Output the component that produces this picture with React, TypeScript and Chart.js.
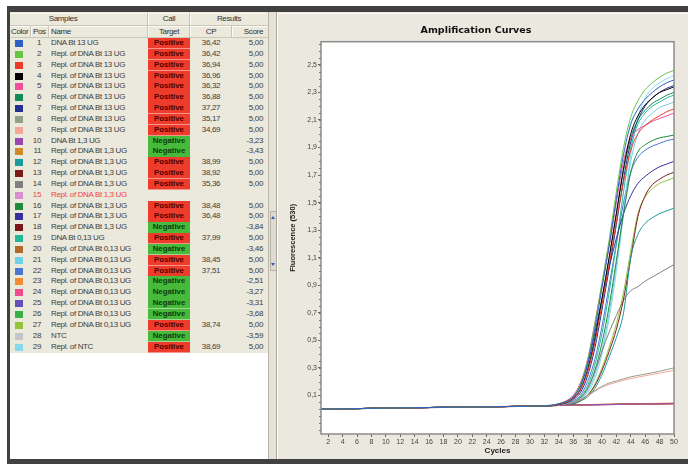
import React, { useEffect, useRef } from 'react';
import { Chart, registerables } from 'chart.js';

Chart.register(...registerables);

// ---------- table data ----------
const sampleNames = [
  'DNA Bt 13 UG', 'Repl. of DNA Bt 13 UG', 'Repl. of DNA Bt 13 UG', 'Repl. of DNA Bt 13 UG',
  'Repl. of DNA Bt 13 UG', 'Repl. of DNA Bt 13 UG', 'Repl. of DNA Bt 13 UG', 'Repl. of DNA Bt 13 UG',
  'Repl. of DNA Bt 13 UG', 'DNA Bt 1,3 UG', 'Repl. of DNA Bt 1,3 UG', 'Repl. of DNA Bt 1,3 UG',
  'Repl. of DNA Bt 1,3 UG', 'Repl. of DNA Bt 1,3 UG', 'Repl. of DNA Bt 1,3 UG', 'Repl. of DNA Bt 1,3 UG',
  'Repl. of DNA Bt 1,3 UG', 'Repl. of DNA Bt 1,3 UG', 'DNA Bt 0,13 UG', 'Repl. of DNA Bt 0,13 UG',
  'Repl. of DNA Bt 0,13 UG', 'Repl. of DNA Bt 0,13 UG', 'Repl. of DNA Bt 0,13 UG', 'Repl. of DNA Bt 0,13 UG',
  'Repl. of DNA Bt 0,13 UG', 'Repl. of DNA Bt 0,13 UG', 'Repl. of DNA Bt 0,13 UG', 'NTC', 'Repl. of NTC',
];

const sampleColors = [
  '#2f5fc4', '#66c545', '#ee3a2a', '#000000', '#f0509a', '#138a5a', '#23308e', '#92a08a',
  '#f4a89a', '#9a48b0', '#d08a2a', '#1a9a9a', '#7e1a1a', '#808080', '#d890d0', '#1f8a3a',
  '#3a2f9a', '#7a1818', '#25b896', '#b06a2a', '#6fd0e6', '#4a78d0', '#f58a35', '#f04a90',
  '#6650b8', '#38b048', '#94c43c', '#c4c4cc', '#88d8ec',
];

const sampleCalls = [
  'Positive', 'Positive', 'Positive', 'Positive', 'Positive', 'Positive', 'Positive', 'Positive',
  'Positive', 'Negative', 'Negative', 'Positive', 'Positive', 'Positive', '', 'Positive',
  'Positive', 'Negative', 'Positive', 'Negative', 'Positive', 'Positive', 'Negative', 'Negative',
  'Negative', 'Negative', 'Positive', 'Negative', 'Positive',
];

const cpValues = [
  '36,42', '36,42', '36,94', '36,96', '36,32', '36,88', '37,27', '35,17', '34,69', '', '',
  '38,99', '38,92', '35,36', '', '38,48', '36,48', '', '37,99', '', '38,45', '37,51', '', '',
  '', '', '38,74', '', '38,69',
];

const scoreValues = [
  '5,00', '5,00', '5,00', '5,00', '5,00', '5,00', '5,00', '5,00', '5,00', '-3,23', '-3,43',
  '5,00', '5,00', '5,00', '', '5,00', '5,00', '-3,84', '5,00', '-3,46', '5,00', '5,00', '-2,51',
  '-3,27', '-3,31', '-3,68', '5,00', '-3,59', '5,00',
];

// ---------- chart data ----------
const cycles = [1, 10, 20, 30, 33, 34, 35, 36, 37, 38, 39, 40, 41, 42, 43, 44, 45, 46, 47, 48, 49, 50];

const fluo01 = [0, 0.008, 0.015, 0.022, 0.028, 0.04, 0.055, 0.09, 0.17, 0.33, 0.58, 0.88, 1.19, 1.53, 1.85, 2.07, 2.18, 2.25, 2.3, 2.34, 2.37, 2.39];
const fluo02 = [0, 0.008, 0.015, 0.022, 0.028, 0.04, 0.055, 0.09, 0.18, 0.35, 0.62, 0.92, 1.23, 1.58, 1.9, 2.12, 2.24, 2.32, 2.37, 2.41, 2.44, 2.46];
const fluo03 = [0, 0.008, 0.015, 0.022, 0.027, 0.035, 0.05, 0.08, 0.14, 0.27, 0.48, 0.76, 1.05, 1.36, 1.65, 1.88, 2.0, 2.06, 2.1, 2.13, 2.16, 2.18];
const fluo04 = [0, 0.008, 0.015, 0.022, 0.027, 0.035, 0.05, 0.08, 0.14, 0.28, 0.5, 0.8, 1.1, 1.42, 1.75, 2.0, 2.13, 2.21, 2.26, 2.3, 2.32, 2.34];
const fluo05 = [0, 0.008, 0.015, 0.022, 0.03, 0.04, 0.06, 0.1, 0.19, 0.36, 0.62, 0.9, 1.18, 1.5, 1.8, 1.97, 2.03, 2.06, 2.09, 2.11, 2.13, 2.15];
const fluo06 = [0, 0.008, 0.015, 0.022, 0.027, 0.036, 0.05, 0.08, 0.15, 0.29, 0.52, 0.8, 1.1, 1.42, 1.73, 1.97, 2.1, 2.17, 2.22, 2.25, 2.28, 2.3];
const fluo07 = [0, 0.008, 0.015, 0.022, 0.026, 0.034, 0.045, 0.07, 0.12, 0.24, 0.44, 0.72, 1.02, 1.34, 1.67, 1.94, 2.1, 2.2, 2.26, 2.3, 2.33, 2.35];
const fluo08 = [0, 0.008, 0.015, 0.022, 0.027, 0.032, 0.04, 0.05, 0.07, 0.1, 0.135, 0.165, 0.19, 0.205, 0.22, 0.235, 0.245, 0.255, 0.265, 0.275, 0.288, 0.3];
const fluo09 = [0, 0.008, 0.015, 0.022, 0.027, 0.032, 0.04, 0.05, 0.068, 0.095, 0.13, 0.16, 0.18, 0.195, 0.21, 0.222, 0.233, 0.243, 0.253, 0.262, 0.272, 0.282];
const fluo10 = [0, 0.008, 0.015, 0.022, 0.026, 0.028, 0.029, 0.03, 0.031, 0.032, 0.033, 0.034, 0.035, 0.035, 0.036, 0.037, 0.037, 0.038, 0.038, 0.039, 0.04, 0.04];
const fluo11 = [0, 0.007, 0.014, 0.021, 0.025, 0.027, 0.028, 0.029, 0.03, 0.031, 0.032, 0.033, 0.034, 0.035, 0.035, 0.036, 0.037, 0.037, 0.038, 0.039, 0.039, 0.04];
const fluo12 = [0, 0.008, 0.015, 0.022, 0.026, 0.03, 0.035, 0.04, 0.06, 0.09, 0.15, 0.25, 0.38, 0.52, 0.7, 1.1, 1.27, 1.35, 1.39, 1.42, 1.44, 1.46];
const fluo13 = [0, 0.008, 0.015, 0.022, 0.026, 0.03, 0.035, 0.04, 0.06, 0.1, 0.17, 0.28, 0.42, 0.58, 0.8, 1.1, 1.4, 1.55, 1.63, 1.67, 1.7, 1.72];
const fluo14 = [0, 0.008, 0.015, 0.022, 0.027, 0.033, 0.04, 0.05, 0.08, 0.15, 0.27, 0.42, 0.56, 0.68, 0.79, 0.86, 0.89, 0.93, 0.96, 0.99, 1.02, 1.05];
const fluo15 = [0, 0.008, 0.015, 0.022, 0.026, 0.028, 0.029, 0.03, 0.03, 0.031, 0.032, 0.033, 0.034, 0.034, 0.035, 0.036, 0.036, 0.037, 0.038, 0.038, 0.039, 0.04];
const fluo16 = [0, 0.008, 0.015, 0.022, 0.026, 0.031, 0.038, 0.05, 0.08, 0.15, 0.28, 0.48, 0.75, 1.08, 1.42, 1.72, 1.87, 1.92, 1.95, 1.97, 1.98, 1.99];
const fluo17 = [0, 0.008, 0.015, 0.022, 0.028, 0.038, 0.055, 0.09, 0.17, 0.32, 0.55, 0.8, 1.03, 1.24, 1.42, 1.55, 1.64, 1.69, 1.73, 1.76, 1.78, 1.8];
const fluo18 = [0, 0.008, 0.015, 0.022, 0.026, 0.028, 0.03, 0.031, 0.032, 0.033, 0.034, 0.035, 0.035, 0.036, 0.037, 0.037, 0.038, 0.039, 0.039, 0.04, 0.041, 0.042];
const fluo19 = [0, 0.008, 0.015, 0.022, 0.026, 0.031, 0.038, 0.05, 0.09, 0.17, 0.32, 0.55, 0.85, 1.2, 1.58, 1.9, 2.07, 2.15, 2.2, 2.23, 2.26, 2.28];
const fluo20 = [0, 0.007, 0.015, 0.022, 0.025, 0.027, 0.029, 0.03, 0.031, 0.032, 0.033, 0.034, 0.034, 0.035, 0.036, 0.037, 0.037, 0.038, 0.039, 0.04, 0.04, 0.041];
const fluo21 = [0, 0.008, 0.015, 0.022, 0.026, 0.03, 0.036, 0.045, 0.07, 0.13, 0.25, 0.43, 0.7, 1.05, 1.45, 1.8, 2.0, 2.1, 2.15, 2.19, 2.21, 2.23];
const fluo22 = [0, 0.008, 0.015, 0.022, 0.026, 0.032, 0.04, 0.06, 0.1, 0.2, 0.36, 0.6, 0.9, 1.2, 1.5, 1.72, 1.83, 1.88, 1.91, 1.93, 1.95, 1.96];
const fluo23 = [0, 0.008, 0.016, 0.023, 0.027, 0.029, 0.03, 0.031, 0.032, 0.033, 0.034, 0.035, 0.036, 0.037, 0.038, 0.039, 0.04, 0.041, 0.042, 0.043, 0.044, 0.045];
const fluo24 = [0, 0.008, 0.015, 0.022, 0.026, 0.028, 0.029, 0.03, 0.031, 0.032, 0.033, 0.033, 0.034, 0.035, 0.036, 0.036, 0.037, 0.038, 0.038, 0.039, 0.04, 0.04];
const fluo25 = [0, 0.007, 0.014, 0.021, 0.025, 0.027, 0.028, 0.029, 0.03, 0.031, 0.032, 0.033, 0.033, 0.034, 0.035, 0.036, 0.036, 0.037, 0.038, 0.038, 0.039, 0.04];
const fluo26 = [0, 0.008, 0.015, 0.022, 0.026, 0.028, 0.029, 0.03, 0.031, 0.032, 0.033, 0.034, 0.035, 0.036, 0.036, 0.037, 0.038, 0.039, 0.039, 0.04, 0.041, 0.041];
const fluo27 = [0, 0.008, 0.015, 0.022, 0.026, 0.03, 0.035, 0.04, 0.06, 0.1, 0.18, 0.3, 0.45, 0.62, 0.85, 1.15, 1.42, 1.54, 1.6, 1.64, 1.66, 1.68];
const fluo28 = [0, 0.008, 0.015, 0.022, 0.026, 0.027, 0.028, 0.029, 0.03, 0.031, 0.031, 0.032, 0.033, 0.034, 0.034, 0.035, 0.036, 0.036, 0.037, 0.038, 0.038, 0.039];
const fluo29 = [0, 0.008, 0.015, 0.022, 0.026, 0.03, 0.036, 0.045, 0.07, 0.12, 0.22, 0.4, 0.66, 1.0, 1.42, 1.85, 2.12, 2.26, 2.33, 2.37, 2.4, 2.42];

const fluorescence = [
  fluo01, fluo02, fluo03, fluo04, fluo05, fluo06, fluo07, fluo08, fluo09, fluo10,
  fluo11, fluo12, fluo13, fluo14, fluo15, fluo16, fluo17, fluo18, fluo19, fluo20,
  fluo21, fluo22, fluo23, fluo24, fluo25, fluo26, fluo27, fluo28, fluo29,
];

const xTickValues = [2, 4, 6, 8, 10, 12, 14, 16, 18, 20, 22, 24, 26, 28, 30, 32, 34, 36, 38, 40, 42, 44, 46, 48, 50];
const yTickValues = [0.1, 0.3, 0.5, 0.7, 0.9, 1.1, 1.3, 1.5, 1.7, 1.9, 2.1, 2.3, 2.5];

const X_MIN = 1;
const X_MAX = 50;
const Y_MIN = -0.18;
const Y_MAX = 2.668;

// ---------- chart ----------
const framePlugin = {
  id: 'frame',
  beforeDraw(chart: any) {
    const { ctx, chartArea: a } = chart;
    ctx.save();
    ctx.fillStyle = '#ffffff';
    ctx.fillRect(a.left, a.top, a.right - a.left, a.bottom - a.top);
    ctx.restore();
  },
  afterDraw(chart: any) {
    const { ctx, chartArea: a, scales } = chart;
    ctx.save();
    ctx.strokeStyle = '#8c8c8c';
    ctx.lineWidth = 1.5;
    ctx.strokeRect(a.left, a.top, a.right - a.left, a.bottom - a.top);
    // minor ticks on the y axis
    ctx.strokeStyle = '#777';
    ctx.lineWidth = 1;
    const ys = scales.y;
    for (let k = -3; k <= 53; k++) {
      const v = k * 0.05;
      if (v < Y_MIN || v > Y_MAX) continue;
      const py = Math.round(ys.getPixelForValue(v)) + 0.5;
      ctx.beginPath();
      ctx.moveTo(a.left - 2, py);
      ctx.lineTo(a.left, py);
      ctx.stroke();
    }
    ctx.restore();
  },
};

function AmplificationChart() {
  const ref = useRef<HTMLCanvasElement | null>(null);
  useEffect(() => {
    if (!ref.current) return;
    const datasets = fluorescence.map((vals, i) => ({
      label: String(i + 1),
      data: cycles.map((c, j) => ({ x: c, y: vals[j] })),
      borderColor: sampleColors[i],
      borderWidth: 1,
      pointRadius: 0,
      fill: false,
      cubicInterpolationMode: 'monotone' as const,
    }));
    const tickFont = { family: '"Liberation Sans", Arial, sans-serif', size: 7 };
    const chart = new Chart(ref.current, {
      type: 'line',
      data: { datasets },
      plugins: [framePlugin],
      options: {
        responsive: false,
        animation: false,
        devicePixelRatio: 1,
        layout: { padding: { left: 0, right: 14, top: 0, bottom: 0 } },
        plugins: {
          legend: { display: false },
          tooltip: { enabled: false },
          title: {
            display: true,
            text: 'Amplification Curves',
            color: '#111',
            font: { family: '"DejaVu Sans", sans-serif', size: 9.5, weight: 'bold' },
            padding: { top: 12, bottom: 5.3 },
          },
        },
        scales: {
          x: {
            type: 'linear',
            min: X_MIN,
            max: X_MAX,
            afterBuildTicks: (s: any) => {
              s.ticks = xTickValues.map((v) => ({ value: v }));
            },
            afterFit: (s: any) => {
              s.height = 25;
            },
            ticks: { font: tickFont, color: '#444', padding: 1, maxRotation: 0, autoSkip: false },
            grid: { display: true, drawOnChartArea: false, tickLength: 3, color: '#666' },
            border: { display: false },
            title: {
              display: true,
              text: 'Cycles',
              color: '#222',
              font: { family: '"Liberation Sans", Arial, sans-serif', size: 8, weight: 'bold' },
              padding: { top: 0, bottom: 3.2 },
            },
          },
          y: {
            type: 'linear',
            min: Y_MIN,
            max: Y_MAX,
            afterBuildTicks: (s: any) => {
              s.ticks = yTickValues.map((v) => ({ value: v }));
            },
            afterFit: (s: any) => {
              s.width = 43;
            },
            ticks: {
              font: tickFont,
              color: '#444',
              padding: 1,
              autoSkip: false,
              callback: (v: any) => Number(v).toFixed(1).replace('.', ','),
            },
            grid: { display: true, drawOnChartArea: false, tickLength: 3, color: '#666' },
            border: { display: false },
            title: {
              display: true,
              text: 'Fluorescence (530)',
              color: '#222',
              font: { family: '"Liberation Sans", Arial, sans-serif', size: 7.5, weight: 'bold' },
              padding: { top: 10.5, bottom: 0 },
            },
          },
        },
      } as any,
    });
    return () => chart.destroy();
  }, []);
  return (
    <canvas
      ref={ref}
      width={410}
      height={446}
      style={{ position: 'absolute', left: 278, top: 13, width: 410, height: 446 }}
    />
  );
}

// ---------- table ----------
const ROW_TOP = 38;
const ROW_H = 10.84;
const UI_FONT = '"Liberation Sans", Arial, sans-serif';

const textBase: React.CSSProperties = {
  position: 'absolute',
  fontFamily: UI_FONT,
  fontSize: 8,
  letterSpacing: -0.35,
  whiteSpace: 'nowrap',
  color: '#404040',
};

function SampleTable() {
  const rows = sampleNames.map((name, i) => {
    const top = ROW_TOP + i * ROW_H;
    const call = sampleCalls[i];
    const noCall = call === '';
    const txt = noCall ? '#f04646' : '#404040';
    const line: React.CSSProperties = { ...textBase, top, height: ROW_H, lineHeight: `${ROW_H}px`, color: txt };
    return (
      <React.Fragment key={i}>
        <div style={{ position: 'absolute', left: 15, top: top + 2, width: 8, height: 7, background: sampleColors[i] }} />
        <div style={{ ...line, left: 26, width: 15, textAlign: 'right' }}>{i + 1}</div>
        <div style={{ ...line, left: 51 }}>{name}</div>
        {call && (
          <div
            style={{
              position: 'absolute',
              left: 148,
              top,
              width: 42,
              height: ROW_H - 0.5,
              background: call === 'Positive' ? '#ee3c2c' : '#47b93b',
              borderBottom: '0.5px solid rgba(255,255,255,0.45)',
              fontFamily: UI_FONT,
              fontWeight: 'bold',
              fontSize: 7.8,
              lineHeight: `${ROW_H}px`,
              textAlign: 'center',
              color: call === 'Positive' ? '#4a0000' : '#0b3d0b',
            }}
          >
            {call}
          </div>
        )}
        <div style={{ ...line, left: 191, width: 40, textAlign: 'center' }}>{cpValues[i]}</div>
        <div style={{ ...line, left: 230, width: 33, textAlign: 'right' }}>{scoreValues[i]}</div>
      </React.Fragment>
    );
  });

  const hdr: React.CSSProperties = { ...textBase, color: '#303030', height: 12, lineHeight: '12px' };
  const vline = (x: number, y: number, h: number, k: string) => (
    <React.Fragment key={k}>
      <div style={{ position: 'absolute', left: x, top: y, width: 1, height: h, background: '#c9c5b6' }} />
      <div style={{ position: 'absolute', left: x + 1, top: y, width: 1, height: h, background: '#fbfaf6' }} />
    </React.Fragment>
  );

  return (
    <>
      {/* header + rows background */}
      <div style={{ position: 'absolute', left: 10, top: 12, width: 259, height: 341, background: '#ebe8dc' }} />
      {/* white empty area */}
      <div style={{ position: 'absolute', left: 10, top: 353, width: 259, height: 106, background: '#ffffff' }} />
      {/* header lines */}
      <div style={{ position: 'absolute', left: 10, top: 13, width: 259, height: 1, background: '#f8f7f2' }} />
      <div style={{ position: 'absolute', left: 10, top: 25, width: 259, height: 1, background: '#cbc7b9' }} />
      <div style={{ position: 'absolute', left: 10, top: 26, width: 259, height: 1, background: '#fbfaf6' }} />
      <div style={{ position: 'absolute', left: 10, top: 37, width: 259, height: 1, background: '#cbc7b9' }} />
      {vline(147, 13, 12, 'a')}
      {vline(189, 13, 12, 'b')}
      {vline(30, 26, 11, 'c')}
      {vline(48, 26, 11, 'd')}
      {vline(147, 26, 11, 'e')}
      {vline(189, 26, 11, 'f')}
      {vline(231, 26, 11, 'g')}
      <div style={{ position: 'absolute', left: 268, top: 12, width: 1, height: 447, background: '#b9b5a8' }} />
      {/* header texts */}
      <div style={{ ...hdr, top: 13, left: 10, width: 106, textAlign: 'center' }}>Samples</div>
      <div style={{ ...hdr, top: 13, left: 148, width: 42, textAlign: 'center' }}>Call</div>
      <div style={{ ...hdr, top: 13, left: 190, width: 78, textAlign: 'center' }}>Results</div>
      <div style={{ ...hdr, top: 25.5, left: 11 }}>Color</div>
      <div style={{ ...hdr, top: 25.5, left: 33 }}>Pos</div>
      <div style={{ ...hdr, top: 25.5, left: 51 }}>Name</div>
      <div style={{ ...hdr, top: 25.5, left: 148, width: 42, textAlign: 'center' }}>Target</div>
      <div style={{ ...hdr, top: 25.5, left: 191, width: 40, textAlign: 'center' }}>CP</div>
      <div style={{ ...hdr, top: 25.5, left: 232, width: 31, textAlign: 'right' }}>Score</div>
      {rows}
    </>
  );
}

export default function App() {
  return (
    <div
      style={{
        position: 'fixed',
        left: 0,
        top: 0,
        width: 688,
        height: 464,
        overflow: 'hidden',
        background: '#ffffff',
      }}
    >
      {/* dark outer frame */}
      <div style={{ position: 'absolute', left: 7, top: 6, width: 681, height: 6, background: '#414141' }} />
      <div style={{ position: 'absolute', left: 7, top: 6, width: 3, height: 458, background: '#414141' }} />
      <div style={{ position: 'absolute', left: 7, top: 459, width: 681, height: 5, background: '#414141' }} />

      <SampleTable />

      {/* splitter column with scroll thumb */}
      <div style={{ position: 'absolute', left: 269, top: 12, width: 8, height: 447, background: '#e6e3d6' }} />
      <div
        style={{
          position: 'absolute',
          left: 270,
          top: 211,
          width: 5,
          height: 58,
          background: '#dedbd0',
          border: '1px solid #b3b0a4',
        }}
      />
      <div style={{ position: 'absolute', left: 271, top: 216, width: 0, height: 0, borderLeft: '2px solid transparent', borderRight: '2px solid transparent', borderBottom: '3px solid #3a58c0' }} />
      <div style={{ position: 'absolute', left: 271, top: 263, width: 0, height: 0, borderLeft: '2px solid transparent', borderRight: '2px solid transparent', borderTop: '3px solid #3a58c0' }} />

      {/* chart panel */}
      <div style={{ position: 'absolute', left: 276, top: 12, width: 1, height: 447, background: '#aaa69a' }} />
      <div style={{ position: 'absolute', left: 277, top: 12, width: 411, height: 447, background: '#ebe8df' }} />
      <div style={{ position: 'absolute', left: 277, top: 13, width: 1, height: 446, background: '#ffffff' }} />
      <div style={{ position: 'absolute', left: 277, top: 13, width: 411, height: 1, background: '#fbfaf6' }} />
      <AmplificationChart />
    </div>
  );
}
